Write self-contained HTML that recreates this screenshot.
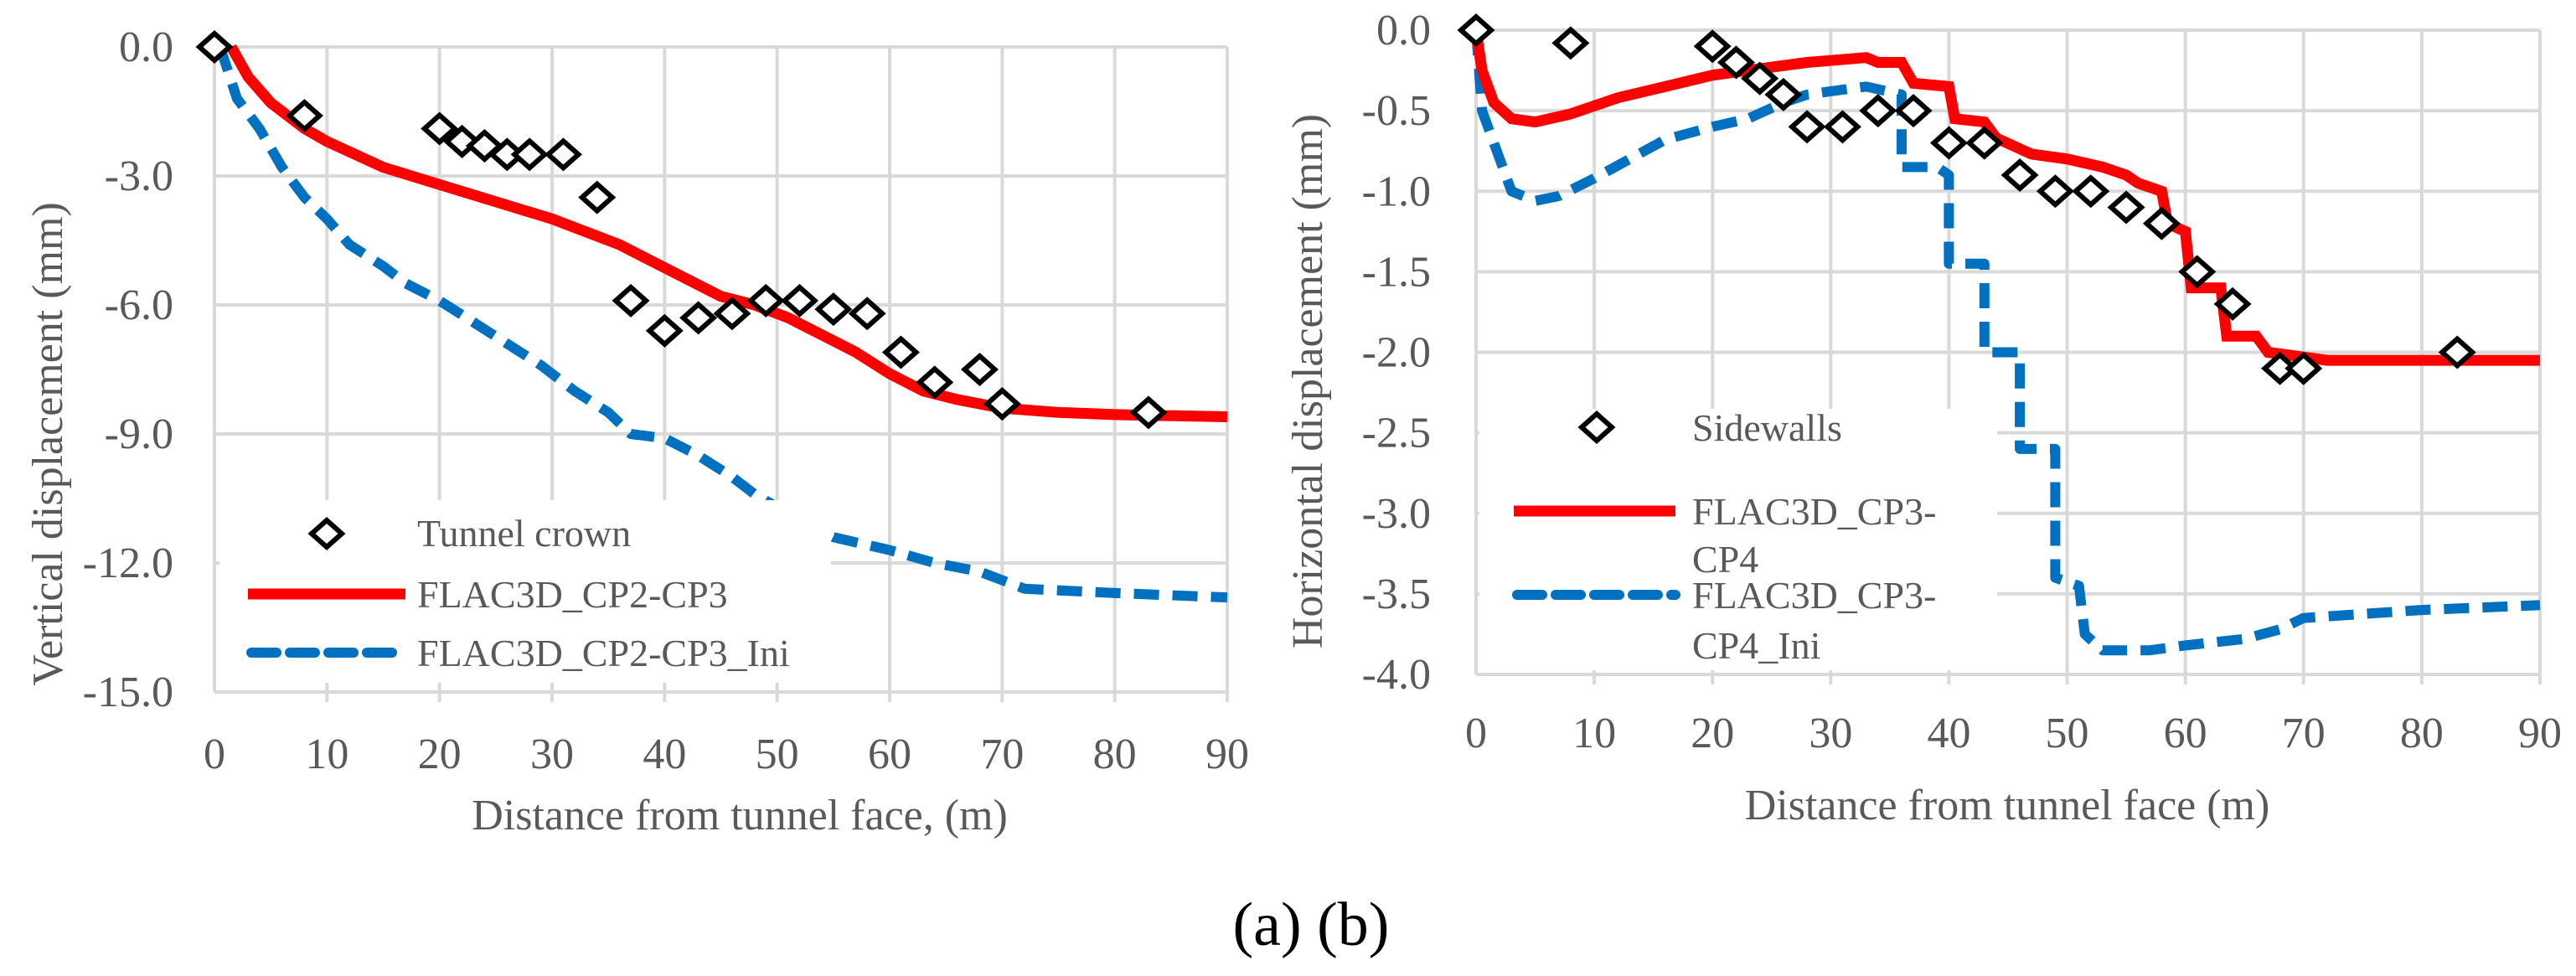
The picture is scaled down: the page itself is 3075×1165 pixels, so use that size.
<!DOCTYPE html>
<html><head><meta charset="utf-8"><style>
html,body{margin:0;padding:0;background:#fff;}
svg{display:block;}
text{font-family:"Liberation Serif",serif;}
</style></head><body>
<svg id="chart" width="3075" height="1165" viewBox="0 0 3075 1165" xmlns="http://www.w3.org/2000/svg">
<g id="left"></g>
<g id="right"></g>
<text x="1565" y="1128" font-size="74" text-anchor="middle" fill="#000">(a) (b)</text>
</svg>
<script>
// ---- Left chart data ----
const xTicks = [0,10,20,30,40,50,60,70,80,90];
const leftYTicks = [0,-3,-6,-9,-12,-15];
const leftYTickLabels = ["0.0","-3.0","-6.0","-9.0","-12.0","-15.0"];
const crownX = [0,8,20,22,24,26,28,31,34,37,40,43,46,49,52,55,58,61,64,68,70,83];
const crownY = [0,-1.6,-1.9,-2.2,-2.3,-2.5,-2.5,-2.5,-3.5,-5.9,-6.6,-6.3,-6.2,-5.9,-5.9,-6.1,-6.2,-7.1,-7.8,-7.5,-8.3,-8.5];
const cp23X = [1.5,3,5,8,10,15,20,25,30,33,36,39,42,45,48,51,54,57,60,63,66,70,75,80,90];
const cp23Y = [0,-0.7,-1.3,-1.9,-2.2,-2.8,-3.2,-3.6,-4.0,-4.3,-4.6,-5.0,-5.4,-5.8,-6.0,-6.3,-6.7,-7.1,-7.6,-8.0,-8.2,-8.4,-8.5,-8.55,-8.6];
const cp23IniX = [0.5,2,4,6,8,10,12,15,17,20,23,26,29,32,35,37,40,43,46,48,52,55,60,64,68,72,80,90];
const cp23IniY = [0,-1.2,-1.9,-2.8,-3.5,-4.0,-4.6,-5.1,-5.5,-5.9,-6.4,-6.9,-7.4,-8.0,-8.5,-9.0,-9.1,-9.5,-10.0,-10.4,-11.0,-11.4,-11.7,-12.0,-12.2,-12.6,-12.7,-12.8];
// ---- Right chart data ----
const rightYTicks = [0,-0.5,-1,-1.5,-2,-2.5,-3,-3.5,-4];
const rightYTickLabels = ["0.0","-0.5","-1.0","-1.5","-2.0","-2.5","-3.0","-3.5","-4.0"];
const sideX = [0,8,20,22,24,26,28,31,34,37,40,43,46,49,52,55,58,61,64,68,70,83];
const sideY = [0,-0.08,-0.1,-0.2,-0.3,-0.4,-0.6,-0.6,-0.5,-0.5,-0.7,-0.7,-0.9,-1.0,-1.0,-1.1,-1.2,-1.5,-1.7,-2.1,-2.1,-2.0];
const cp34X = [0,0.5,1.5,3,5,8,12,16,20,24,28,33,34,36,37,40,40.5,43,44,47,50,53,55,56,58,58.5,60,60.5,63,63.5,66,67,72,90];
const cp34Y = [0,-0.25,-0.45,-0.55,-0.57,-0.52,-0.42,-0.35,-0.28,-0.24,-0.2,-0.17,-0.2,-0.2,-0.33,-0.35,-0.55,-0.57,-0.67,-0.77,-0.8,-0.85,-0.9,-0.95,-1.0,-1.2,-1.25,-1.6,-1.6,-1.9,-1.9,-2.0,-2.05,-2.05];
const cp34IniX = [0,0.5,1.5,3,5,7,10,13,16,20,23,26,28,31,33,36,36,39,40,40,43,43,46,46,49,49,51,51.5,53,57,60,65,68,70,76,80,90];
const cp34IniY = [0,-0.5,-0.7,-1.0,-1.06,-1.03,-0.92,-0.8,-0.68,-0.6,-0.55,-0.45,-0.4,-0.37,-0.35,-0.4,-0.85,-0.85,-0.9,-1.45,-1.45,-2.0,-2.0,-2.6,-2.6,-3.4,-3.45,-3.75,-3.85,-3.85,-3.82,-3.78,-3.72,-3.65,-3.62,-3.6,-3.57];

const NS="http://www.w3.org/2000/svg";
function mk(parent,tag,attrs,txt){const e=document.createElementNS(NS,tag);for(const k in attrs)e.setAttribute(k,attrs[k]);if(txt!==undefined)e.textContent=txt;parent.appendChild(e);return e;}

function drawChart(g,cfg){
  const sx=d=>cfg.x0+(d/90)*(cfg.x90-cfg.x0);
  const sy=v=>cfg.y0+(v/cfg.ymin)*(cfg.ybot-cfg.y0);
  // gridlines
  cfg.yTicks.forEach((t,i)=>{
    const l=mk(g,'line',{x1:cfg.x0,x2:cfg.x90,y1:sy(t),y2:sy(t),stroke:'#d9d9d9','stroke-width':4});
    
    
    const tx=mk(g,'text',{x:cfg.ylabX,y:sy(t)+17,'font-size':cfg.tickFs,'text-anchor':'end',fill:'#595959'},cfg.yLabels[i]);
    
    
  });
  xTicks.forEach(t=>{
    const l=mk(g,'line',{x1:sx(t),x2:sx(t),y1:cfg.y0,y2:cfg.ybot+(t===0?0:12),stroke:'#d9d9d9','stroke-width':4});
    
    
    const tx=mk(g,'text',{x:sx(t),y:cfg.xlabY,'font-size':cfg.tickFs,'text-anchor':'middle',fill:'#595959'},String(t));
    
    
  });
  // series
  const path=(xs,ys)=>xs.map((x,i)=>(i?'L':'M')+sx(x).toFixed(1)+','+sy(ys[i]).toFixed(1)).join(' ');
  const b=mk(g,'path',{d:path(cfg.bX,cfg.bY),fill:'none',stroke:'#0070c0','stroke-width':12,'stroke-dasharray':'30 16','stroke-linejoin':'round'});
  
  
  const r=mk(g,'path',{d:path(cfg.rX,cfg.rY),fill:'none',stroke:'#ff0000','stroke-width':13,'stroke-linejoin':'miter'});
  
  
  // legend box
  const lb=mk(g,'rect',cfg.legBox);
  lb.setAttribute('fill','#fff');
  
  
  cfg.mX.forEach((x,i)=>{
    const cx=sx(x),cy=sy(cfg.mY[i]);
    const d=mk(g,'path',{d:`M${cx-18},${cy} L${cx},${cy-16} L${cx+18},${cy} L${cx},${cy+16} Z`,fill:'#fff',stroke:'#000','stroke-width':6});
    
    
  });
  // axis titles
  const yt=mk(g,'text',{x:0,y:0,'font-size':cfg.titleFs,'text-anchor':'middle',fill:'#595959',transform:`translate(${cfg.ytX},${cfg.ytY}) rotate(-90)`},cfg.yTitle);
  
  
  const xt=mk(g,'text',{x:cfg.xtX,y:cfg.xtY,'font-size':cfg.titleFs,'text-anchor':'middle',fill:'#595959'},cfg.xTitle);
  
  
  return {sx,sy};
}

const L=document.getElementById('left');
drawChart(L,{x0:256,x90:1465,y0:56,ybot:826,ymin:-15,yTicks:leftYTicks,yLabels:leftYTickLabels,ylabX:207,xlabY:917,tickFs:52,titleFs:52,
  rX:cp23X,rY:cp23Y,bX:cp23IniX,bY:cp23IniY,mX:crownX,mY:crownY,legBox:{x:262,y:597,width:730,height:218},
  yTitle:'Vertical displacement (mm)',ytX:74,ytY:530,xTitle:'Distance from tunnel face, (m)',xtX:883,xtY:990});
// left legend
(function(){
  const d=mk(L,'path',{d:'M372,637 L390,621 L408,637 L390,653 Z',fill:'#fff',stroke:'#000','stroke-width':6});
  
  
  const t1=mk(L,'text',{x:498,y:652,'font-size':46,fill:'#595959'},'Tunnel crown');
  
  
  const l1=mk(L,'line',{x1:296,x2:484,y1:709,y2:709,stroke:'#ff0000','stroke-width':13});
  
  
  const t2=mk(L,'text',{x:498,y:725,'font-size':46,fill:'#595959'},'FLAC3D_CP2-CP3');
  
  
  const l2=mk(L,'line',{x1:300,x2:484,y1:779,y2:779,stroke:'#0070c0','stroke-width':12,'stroke-dasharray':'30 16','stroke-linecap':'round'});
  
  
  const t3=mk(L,'text',{x:498,y:795,'font-size':46,fill:'#595959'},'FLAC3D_CP2-CP3_Ini');
  
  
})();

const R=document.getElementById('right');
drawChart(R,{x0:1762,x90:3032,y0:36,ybot:805,ymin:-4,yTicks:rightYTicks,yLabels:rightYTickLabels,ylabX:1708,xlabY:892,tickFs:52,titleFs:52,
  rX:cp34X,rY:cp34Y,bX:cp34IniX,bY:cp34IniY,mX:sideX,mY:sideY,legBox:{x:1766,y:488,width:618,height:312},
  yTitle:'Horizontal displacement (mm)',ytX:1578,ytY:455,xTitle:'Distance from tunnel face (m)',xtX:2396,xtY:978});
(function(){
  const d=mk(R,'path',{d:'M1888,510 L1906,494 L1924,510 L1906,526 Z',fill:'#fff',stroke:'#000','stroke-width':6});
  
  
  const t1=mk(R,'text',{x:2020,y:526,'font-size':46,fill:'#595959'},'Sidewalls');
  
  
  const l1=mk(R,'line',{x1:1807,x2:2000,y1:610,y2:610,stroke:'#ff0000','stroke-width':13});
  
  
  const t2=mk(R,'text',{x:2020,y:626,'font-size':46,fill:'#595959'},'FLAC3D_CP3-');
  
  
  const t2b=mk(R,'text',{x:2020,y:683,'font-size':46,fill:'#595959'},'CP4');
  
  
  const l2=mk(R,'line',{x1:1811,x2:2000,y1:710,y2:710,stroke:'#0070c0','stroke-width':12,'stroke-dasharray':'30 16','stroke-linecap':'round'});
  
  
  const t3=mk(R,'text',{x:2020,y:726,'font-size':46,fill:'#595959'},'FLAC3D_CP3-');
  
  
  const t3b=mk(R,'text',{x:2020,y:786,'font-size':46,fill:'#595959'},'CP4_Ini');
  
  
})();
</script>
</body></html>
